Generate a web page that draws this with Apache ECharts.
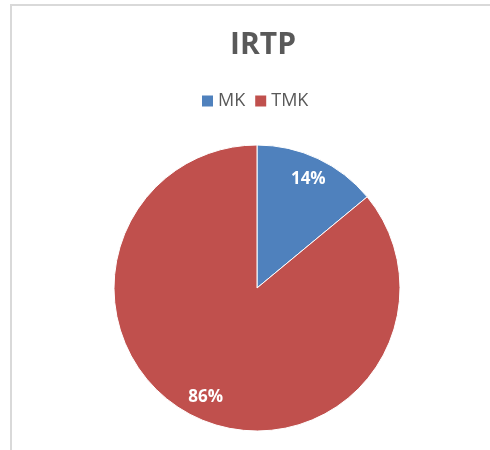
<!DOCTYPE html>
<html>
<head>
<meta charset="utf-8">
<script src="https://cdn.jsdelivr.net/npm/echarts@6/dist/echarts.min.js"></script>
<style>
  html, body { margin: 0; padding: 0; background: #fff; }
  #frame { position: absolute; left: 10px; top: 4px; width: 490px; height: 460px;
           border-left: 2px solid #d9d9d9; border-top: 2px solid #d9d9d9; }
  #chart { position: absolute; left: 0; top: 0; width: 490px; height: 450px; }
</style>
</head>
<body>
<div id="frame"></div>
<div id="chart"></div>
<script>
const titleText = 'IRTP';
const categories = ['MK', 'TMK'];
const values = [14, 86];
const colors = ['#4f81bd', '#c0504d'];

const data = categories.map((c, i) => ({ name: c, value: values[i] }));
const chart = echarts.init(document.getElementById('chart'), null, { renderer: 'canvas' });
chart.setOption({
  animation: false,
  color: colors,
  title: {
    text: titleText, left: 258, top: 25, textAlign: 'center',
    textStyle: { fontFamily: 'Open Sans', fontWeight: 'bold', fontSize: 30, color: '#595959' }
  },
  legend: {
    data: categories, left: 195, top: 87,
    icon: 'rect', itemWidth: 13, itemHeight: 13, itemGap: 8,
    textStyle: { fontFamily: 'Open Sans', fontSize: 18, color: '#595959', padding: [0, 0, 0, -1] }
  },
  series: [
    {
      type: 'pie', center: [257, 288], radius: [0, 143],
      startAngle: 90, clockwise: true,
      data: data,
      label: { show: false }, labelLine: { show: false },
      itemStyle: { borderColor: '#ffffff', borderWidth: 1 },
      emphasis: { disabled: true }
    },
    {
      type: 'pie', center: [257, 288], radius: [92, 143],
      startAngle: 90, clockwise: true, silent: true,
      data: data,
      itemStyle: { color: 'rgba(0,0,0,0)' },
      label: {
        show: true, position: 'inside', formatter: '{d}%',
        fontFamily: 'Open Sans', fontWeight: 'bold', fontSize: 17, color: '#ffffff'
      },
      labelLine: { show: false },
      emphasis: { disabled: true },
      tooltip: { show: false }
    }
  ]
});
</script>
</body>
</html>
